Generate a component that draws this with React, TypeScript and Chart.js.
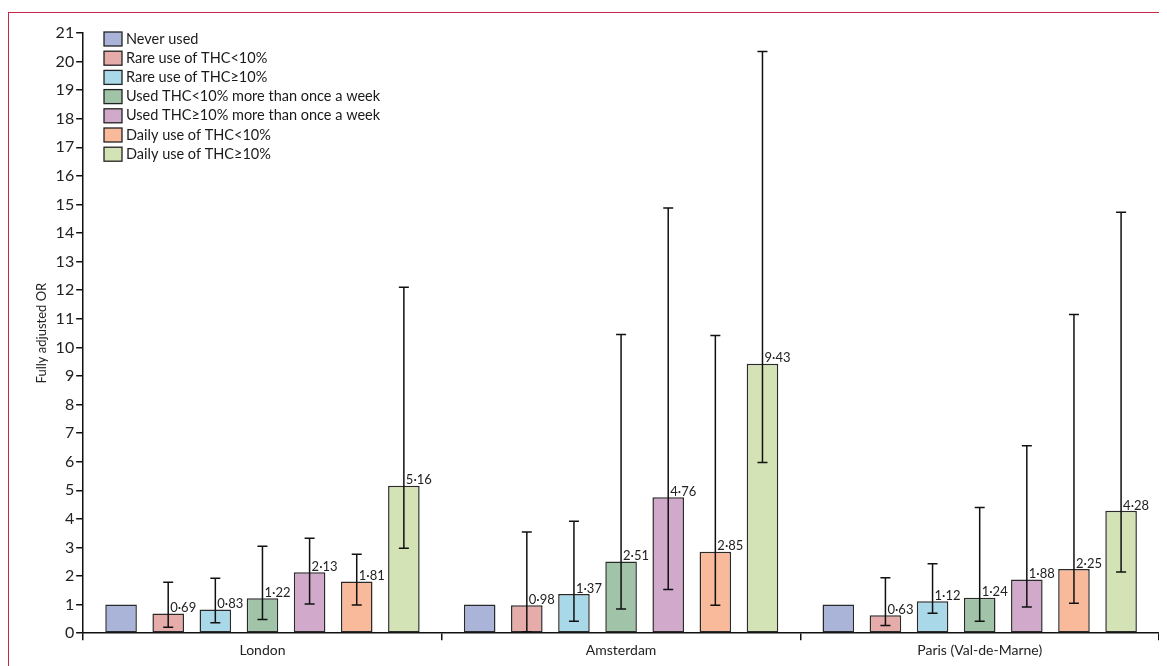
import { useEffect, useRef } from "react";
import { Chart, registerables } from "chart.js";

Chart.register(...registerables);

const cities = ["London", "Amsterdam", "Paris (Val-de-Marne)"];
const groups = [
  "Never used",
  "Rare use of THC<10%",
  "Rare use of THC\u226510%",
  "Used THC<10% more than once a week",
  "Used THC\u226510% more than once a week",
  "Daily use of THC<10%",
  "Daily use of THC\u226510%",
];
const colors = ["#aab4d9", "#e6aca9", "#a9d8e9", "#a1c4a9", "#d1a9ca", "#f9b99b", "#d4e3b5"];

// values per group, one per city
const values = [
  [1, 1, 1],
  [0.69, 0.98, 0.63],
  [0.83, 1.37, 1.12],
  [1.22, 2.51, 1.24],
  [2.13, 4.76, 1.88],
  [1.81, 2.85, 2.25],
  [5.16, 9.43, 4.28],
];
const lower = [
  [1, 1, 1],
  [0.21, 0.05, 0.27],
  [0.37, 0.42, 0.7],
  [0.48, 0.85, 0.42],
  [1.02, 1.53, 0.92],
  [0.99, 0.98, 1.05],
  [2.97, 5.97, 2.14],
];
const upper = [
  [1, 1, 1],
  [1.78, 3.54, 1.94],
  [1.92, 3.92, 2.43],
  [3.04, 10.45, 4.4],
  [3.32, 14.88, 6.56],
  [2.76, 10.42, 11.15],
  [12.1, 20.35, 14.73],
];
const yTicks = Array.from({ length: 22 }, (_, i) => i);

const FONT = "Lato, 'Open Sans', sans-serif";

const errorBars = {
  id: "errorBars",
  afterDatasetsDraw(chart: any) {
    const ctx = chart.ctx;
    const y = chart.scales.y;
    ctx.save();
    chart.data.datasets.forEach((ds: any, di: number) => {
      if (di === 0) return;
      const meta = chart.getDatasetMeta(di);
      meta.data.forEach((bar: any, i: number) => {
        const x = bar.x;
        const yl = y.getPixelForValue(lower[di][i]);
        const yu = y.getPixelForValue(upper[di][i]);
        ctx.strokeStyle = "#111";
        ctx.lineWidth = 1.5;
        ctx.beginPath();
        ctx.moveTo(x, yl);
        ctx.lineTo(x, yu);
        ctx.moveTo(x - 5, yl);
        ctx.lineTo(x + 5, yl);
        ctx.moveTo(x - 5, yu);
        ctx.lineTo(x + 5, yu);
        ctx.stroke();
        ctx.fillStyle = "#222";
        ctx.font = `13px ${FONT}`;
        ctx.textAlign = "left";
        ctx.textBaseline = "bottom";
        ctx.fillText(values[di][i].toFixed(2).replace(".", "\u00b7"), x + 2, bar.y + 1);
      });
    });
    // legend
    const lx = 91;
    let ly = 13;
    ctx.font = `14.5px ${FONT}`;
    ctx.textBaseline = "middle";
    groups.forEach((g, i) => {
      ctx.fillStyle = colors[i];
      ctx.fillRect(lx, ly, 18, 14);
      ctx.strokeStyle = "#222";
      ctx.lineWidth = 1.3;
      ctx.strokeRect(lx, ly, 18, 14);
      ctx.fillStyle = "#1a1a1a";
      ctx.fillText(g, lx + 22, ly + 7);
      ly += 19.2;
    });
    ctx.restore();
  },
};

export default function App() {
  const canvasRef = useRef<HTMLCanvasElement | null>(null);

  useEffect(() => {
    const canvas = canvasRef.current;
    if (!canvas) return;
    const chart = new Chart(canvas, {
      type: "bar",
      data: {
        labels: cities,
        datasets: groups.map((g, i) => ({
          label: g,
          data: values[i],
          backgroundColor: colors[i],
          borderColor: "#2a2a2a",
          borderWidth: 1.5,
          borderSkipped: false,
          categoryPercentage: 0.92,
          barPercentage: 0.67,
        })),
      },
      options: {
        animation: false,
        responsive: true,
        maintainAspectRatio: false,
        layout: { padding: { top: 14, right: 0, left: 17, bottom: 0 } },
        plugins: { legend: { display: false }, tooltip: { enabled: false } },
        scales: {
          x: {
            grid: { offset: true, drawOnChartArea: false, tickLength: 7, color: "#111", lineWidth: 1.5 },
            border: { color: "#111", width: 1.5 },
            ticks: { color: "#222", font: { family: FONT, size: 14 }, padding: 2 },
          },
          y: {
            min: 0,
            max: 21,
            afterBuildTicks: (s: any) => {
              s.ticks = yTicks.map((v) => ({ value: v }));
            },
            grid: { drawOnChartArea: false, tickLength: 7, color: "#111", lineWidth: 1.5 },
            border: { color: "#111", width: 1.5 },
            ticks: { color: "#222", font: { family: FONT, size: 16 }, padding: 2, autoSkip: false },
            title: { display: true, text: "Fully adjusted OR", color: "#222", font: { family: FONT, size: 13 }, padding: 4 },
          },
        },
      },
      plugins: [errorBars],
    });
    return () => chart.destroy();
  }, []);

  return (
    <div
      style={{
        marginTop: 4,
        width: 1152,
        height: 660,
        borderTop: "1.5px solid #c8274a",
        borderLeft: "1.5px solid #c8274a",
        borderRight: "1.5px solid #c8274a",
        boxSizing: "border-box",
        padding: "6px 0 0 4px",
        background: "#fff",
      }}
    >
      <div style={{ position: "relative", width: "100%", height: 642 }}>
        <canvas ref={canvasRef} />
      </div>
    </div>
  );
}
